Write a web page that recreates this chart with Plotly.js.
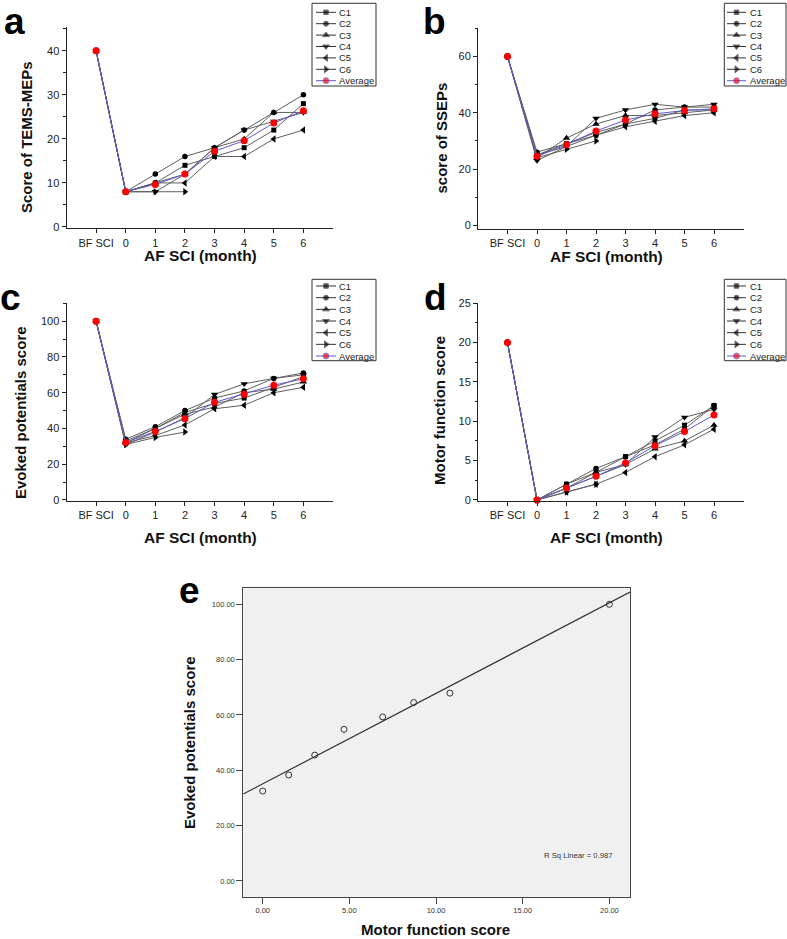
<!DOCTYPE html>
<html><head><meta charset="utf-8">
<script src="https://cdn.plot.ly/plotly-3.0.1.min.js"></script>
<style>html,body{margin:0;padding:0;background:#fff}</style>
</head><body><div id="chart" style="width:787px;height:939px"></div>
<script>
// ---------- DATA ----------
const categories = ['BF SCI', '0', '1', '2', '3', '4', '5', '6'];
const seriesNames = ['C1', 'C2', 'C3', 'C4', 'C5', 'C6'];

// (a) Score of TEMS-MEPs
const temsC1 = [40, 8, 10, 14, 16, 18, 22, 28];
const temsC2 = [40, 8, 12, 16, 18, 22, 26, 30];
const temsC3 = [40, 8, 10, 12, 18, 20, 26, 26];
const temsC4 = [40, 8, 8, 12, 18, 22, 24, 26];
const temsC5 = [40, 8, 10, 10, 16, 16, 20, 22];
const temsC6 = [40, 8, 8, 8];
const temsAvg = [40, 8, 9.67, 12, 17.2, 19.6, 23.6, 26.4];

// (b) score of SSEPs
const ssepC1 = [60, 25, 29, 33, 36, 38, 41, 41];
const ssepC2 = [60, 26, 29, 32, 36, 41, 42, 42];
const ssepC3 = [60, 24, 31, 36, 39, 39, 40, 41];
const ssepC4 = [60, 23, 28, 38, 41, 43, 42, 43];
const ssepC5 = [60, 25, 28, 32, 35, 37, 39, 40];
const ssepC6 = [60, 24, 27, 30];
const ssepAvg = [60, 24.5, 28.67, 33.5, 37.4, 39.6, 40.8, 41.4];

// (c) Evoked potentials score
const evokC1 = [100, 33, 40, 49, 54, 57, 63, 69];
const evokC2 = [100, 34, 41, 50, 57, 61, 68, 71];
const evokC3 = [100, 32, 40, 48, 52, 60, 62, 66];
const evokC4 = [100, 31, 38, 46, 59, 65, 68, 70];
const evokC5 = [100, 32, 36, 42, 51, 53, 60, 63];
const evokC6 = [100, 31, 35, 38];
const evokAvg = [100, 32.17, 38.33, 45.5, 54.6, 59.2, 64.2, 67.8];

// (d) Motor function score
const motorC1 = [20, 0, 2, 3.5, 5.5, 7.5, 9.5, 12];
const motorC2 = [20, 0, 2, 4, 5.5, 7, 9, 12];
const motorC3 = [20, 0, 1.5, 3.5, 4.5, 6.5, 7.5, 9.5];
const motorC4 = [20, 0, 1.5, 3, 4.5, 8, 10.5, 11.5];
const motorC5 = [20, 0, 1, 2, 3.5, 5.5, 7, 9];
const motorC6 = [20, 0, 1, 2];
const motorAvg = [20, 0, 1.5, 3, 4.7, 6.9, 8.7, 10.8];

// (e) scatter: motor function score vs evoked potentials score
const eMotor = [0, 1.5, 3, 4.69, 6.92, 8.71, 10.8, 20];
const eEvoked = [32.5, 38.3, 45.5, 54.8, 59.3, 64.5, 67.9, 100];
const rSqText = 'R Sq Linear = 0.987';

// ---------- LAYOUT HELPERS ----------
const W = 787, H = 939;
const fx = p => p / W;
const fy = p => 1 - p / H;
const FONT = 'Arial, "Liberation Sans", Helvetica, sans-serif';
const symbols = ['square', 'circle', 'triangle-up', 'triangle-down', 'triangle-left', 'triangle-right'];
const symSize = [5, 5.5, 6.5, 6.5, 6.5, 6.5];
const LINE_C = '#5f5f5f';
const AVG_LINE = '#5a5ad2';

const panels = [
  {xa: 'x', ya: 'y', series: [temsC1, temsC2, temsC3, temsC4, temsC5, temsC6], avg: temsAvg,
   box: {l: 66.5, r: 333, t: 27, b: 228.3}, yrange: [-0.3, 45.4], dtick: 10, minor: 5,
   ytitle: 'Score of TEMS-MEPs', ytPos: [27, 137], xtPos: [200, 255.5], letter: 'a', letterPos: [3, 0],
   leg: {l: 312, r: 376, t: 3.3, b: 86, y0: 12.3, dy: 11.4, x0: 316, x1: 336, tx: 338}},
  {xa: 'x2', ya: 'y2', series: [ssepC1, ssepC2, ssepC3, ssepC4, ssepC5, ssepC6], avg: ssepAvg,
   box: {l: 478, r: 743.5, t: 28.3, b: 228.7}, yrange: [-1.2, 70], dtick: 20, minor: 10,
   ytitle: 'score of SSEPs', ytPos: [441, 137.5], xtPos: [606, 256.5], letter: 'b', letterPos: [422, 0],
   leg: {l: 724.3, r: 786, t: 3.3, b: 86, y0: 12.3, dy: 11.4, x0: 727, x1: 746, tx: 749}},
  {xa: 'x3', ya: 'y3', series: [evokC1, evokC2, evokC3, evokC4, evokC5, evokC6], avg: evokAvg,
   box: {l: 66.5, r: 333, t: 303.3, b: 500.7}, yrange: [-0.4, 110], dtick: 20, minor: 10,
   ytitle: 'Evoked potentials score', ytPos: [20.5, 412.5], xtPos: [200, 537], letter: 'c', letterPos: [-1, 276],
   leg: {l: 312, r: 376, t: 279.3, b: 360.7, y0: 286, dy: 11.67, x0: 316, x1: 336, tx: 338}},
  {xa: 'x4', ya: 'y4', series: [motorC1, motorC2, motorC3, motorC4, motorC5, motorC6], avg: motorAvg,
   box: {l: 478, r: 743.5, t: 303.3, b: 500.7}, yrange: [-0.1, 25], dtick: 5, minor: 2.5,
   ytitle: 'Motor function score', ytPos: [439, 411], xtPos: [606, 537], letter: 'd', letterPos: [423, 276],
   leg: {l: 724.3, r: 786, t: 279.3, b: 360.7, y0: 286, dy: 11.67, x0: 727, x1: 746, tx: 749}}
];

const traces = [];
const annotations = [];
const shapes = [];
const layout = {
  width: W, height: H, margin: {l: 0, r: 0, t: 0, b: 0},
  paper_bgcolor: '#ffffff', plot_bgcolor: 'rgba(0,0,0,0)',
  showlegend: false, font: {family: FONT, color: '#222'},
  annotations: annotations, shapes: shapes
};

const axName = id => id === 'x' ? 'xaxis' : id === 'y' ? 'yaxis' : (id[0] + 'axis' + id.slice(1));
const letterFont = {size: 37, family: FONT, color: '#000', weight: 'bold'};

panels.forEach(p => {
  layout[axName(p.xa)] = {
    domain: [fx(p.box.l), fx(p.box.r)], anchor: p.ya, type: 'category',
    categoryorder: 'array', categoryarray: categories, range: [-1, 8],
    showline: true, linecolor: '#222', linewidth: 1, showgrid: false, zeroline: false,
    ticks: 'outside', ticklen: 4, tickcolor: '#222', tickfont: {size: 11, color: '#222', family: FONT},
    fixedrange: true
  };
  layout[axName(p.ya)] = {
    domain: [fy(p.box.b), fy(p.box.t)], anchor: p.xa, range: p.yrange,
    tick0: 0, dtick: p.dtick,
    showline: true, linecolor: '#222', linewidth: 1, showgrid: false, zeroline: false,
    ticks: 'outside', ticklen: 4, tickcolor: '#222', tickfont: {size: 11, color: '#222', family: FONT},
    minor: {ticks: 'outside', dtick: p.minor, tick0: 0, ticklen: 2.5, tickcolor: '#222', showgrid: false},
    fixedrange: true
  };
  p.series.forEach((s, i) => {
    traces.push({
      type: 'scatter', mode: 'lines+markers', x: categories.slice(0, s.length), y: s,
      xaxis: p.xa, yaxis: p.ya, cliponaxis: false, name: seriesNames[i],
      line: {color: LINE_C, width: 1},
      marker: {symbol: symbols[i], size: symSize[i], color: '#000'}
    });
  });
  traces.push({
    type: 'scatter', mode: 'lines+markers', x: categories.slice(0, p.avg.length), y: p.avg,
    xaxis: p.xa, yaxis: p.ya, cliponaxis: false, name: 'Average',
    line: {color: AVG_LINE, width: 1},
    marker: {symbol: 'circle', size: 7, color: '#ff0000'}
  });
  // axis titles
  annotations.push({xref: 'paper', yref: 'paper', x: fx(p.xtPos[0]), y: fy(p.xtPos[1]),
    xanchor: 'center', yanchor: 'middle', showarrow: false, text: 'AF SCI (month)',
    font: {size: 15.5, family: FONT, color: '#111', weight: 'bold'}});
  annotations.push({xref: 'paper', yref: 'paper', x: fx(p.ytPos[0]), y: fy(p.ytPos[1]),
    xanchor: 'center', yanchor: 'middle', showarrow: false, text: p.ytitle, textangle: -90,
    font: {size: 15, family: FONT, color: '#111', weight: 'bold'}});
  // panel letter (top of its text box)
  annotations.push({xref: 'paper', yref: 'paper', x: fx(p.letterPos[0]), y: fy(p.letterPos[1]),
    xanchor: 'left', yanchor: 'top', showarrow: false, text: p.letter, borderpad: 0, font: letterFont});
  // custom legend (drawn on overlay pixel axis x6/y6)
  const L = p.leg;
  shapes.push({type: 'rect', xref: 'x6', yref: 'y6', x0: L.l, x1: L.r, y0: L.t, y1: L.b,
    line: {color: '#333', width: 1}, fillcolor: 'rgba(0,0,0,0)', layer: 'above'});
  const legNames = seriesNames.concat(['Average']);
  legNames.forEach((nm, i) => {
    const yy = L.y0 + i * L.dy;
    const isAvg = nm === 'Average';
    traces.push({
      type: 'scatter', mode: 'lines+markers', xaxis: 'x6', yaxis: 'y6', cliponaxis: false,
      x: [L.x0, (L.x0 + L.x1) / 2, L.x1], y: [yy, yy, yy], hoverinfo: 'skip',
      line: {color: isAvg ? AVG_LINE : '#333', width: 1},
      marker: {symbol: isAvg ? 'circle' : symbols[i], size: [0, isAvg ? 6 : symSize[i] - 0.5, 0],
               color: isAvg ? '#ff0000' : '#000'}
    });
    annotations.push({xref: 'x6', yref: 'y6', x: L.tx, y: yy, xanchor: 'left', yanchor: 'middle',
      showarrow: false, text: nm, font: {size: 9.5, family: FONT, color: '#222'}, borderpad: 0});
  });
});

// overlay pixel axis for legends
layout.xaxis6 = {domain: [0, 1], range: [0, W], visible: false, fixedrange: true, anchor: 'y6'};
layout.yaxis6 = {domain: [0, 1], range: [H, 0], visible: false, fixedrange: true, anchor: 'x6'};

// ---------- PANEL E ----------
const eBox = {l: 243.3, r: 630, t: 588.3, b: 896.7};
const eXRange = [-1.12, 21.19];
const eYRange = [-5.7, 105.8];
layout.xaxis5 = {
  domain: [fx(eBox.l), fx(eBox.r)], anchor: 'y5', range: eXRange, tick0: 0, dtick: 5, tickformat: '.2f',
  showline: true, mirror: true, linecolor: '#444', linewidth: 1, showgrid: false, zeroline: false,
  ticks: 'outside', ticklen: 6, tickcolor: '#444', tickfont: {size: 7.5, color: '#333', family: FONT}, fixedrange: true
};
layout.yaxis5 = {
  domain: [fy(eBox.b), fy(eBox.t)], anchor: 'x5', range: eYRange, tick0: 0, dtick: 20, tickformat: '.2f',
  showline: true, mirror: true, linecolor: '#444', linewidth: 1, showgrid: false, zeroline: false,
  ticks: 'outside', ticklen: 6, tickcolor: '#444', tickfont: {size: 7.5, color: '#333', family: FONT}, fixedrange: true
};
shapes.push({type: 'rect', xref: 'x5 domain', yref: 'y5 domain', x0: 0, x1: 1, y0: 0, y1: 1,
  fillcolor: '#f0f0f0', line: {width: 0}, layer: 'below'});

// least-squares fit computed from the scatter data
const n = eMotor.length;
const mx = eMotor.reduce((a, b) => a + b, 0) / n;
const my = eEvoked.reduce((a, b) => a + b, 0) / n;
let sxy = 0, sxx = 0;
for (let i = 0; i < n; i++) { sxy += (eMotor[i] - mx) * (eEvoked[i] - my); sxx += (eMotor[i] - mx) ** 2; }
const slope = sxy / sxx, intercept = my - slope * mx;
traces.push({type: 'scatter', mode: 'lines', xaxis: 'x5', yaxis: 'y5',
  x: eXRange, y: eXRange.map(v => intercept + slope * v), line: {color: '#333', width: 1.2}, hoverinfo: 'skip'});
traces.push({type: 'scatter', mode: 'markers', xaxis: 'x5', yaxis: 'y5', x: eMotor, y: eEvoked, cliponaxis: false,
  marker: {symbol: 'circle-open', size: 6, color: '#333', line: {width: 1, color: '#333'}}});

annotations.push({xref: 'paper', yref: 'paper', x: fx(578), y: fy(855), xanchor: 'center', yanchor: 'middle',
  showarrow: false, text: rSqText, font: {size: 7.7, family: FONT, color: '#333'}});
annotations.push({xref: 'paper', yref: 'paper', x: fx(435), y: fy(929.5), xanchor: 'center', yanchor: 'middle',
  showarrow: false, text: 'Motor function score', font: {size: 15, family: FONT, color: '#111', weight: 'bold'}});
annotations.push({xref: 'paper', yref: 'paper', x: fx(189), y: fy(743), xanchor: 'center', yanchor: 'middle',
  showarrow: false, text: 'Evoked potentials score', textangle: -90, font: {size: 15, family: FONT, color: '#111', weight: 'bold'}});
annotations.push({xref: 'paper', yref: 'paper', x: fx(178), y: fy(569), xanchor: 'left', yanchor: 'top',
  showarrow: false, text: 'e', borderpad: 0, font: letterFont});

Plotly.newPlot('chart', traces, layout, {staticPlot: true, displayModeBar: false});
</script>
</body></html>
